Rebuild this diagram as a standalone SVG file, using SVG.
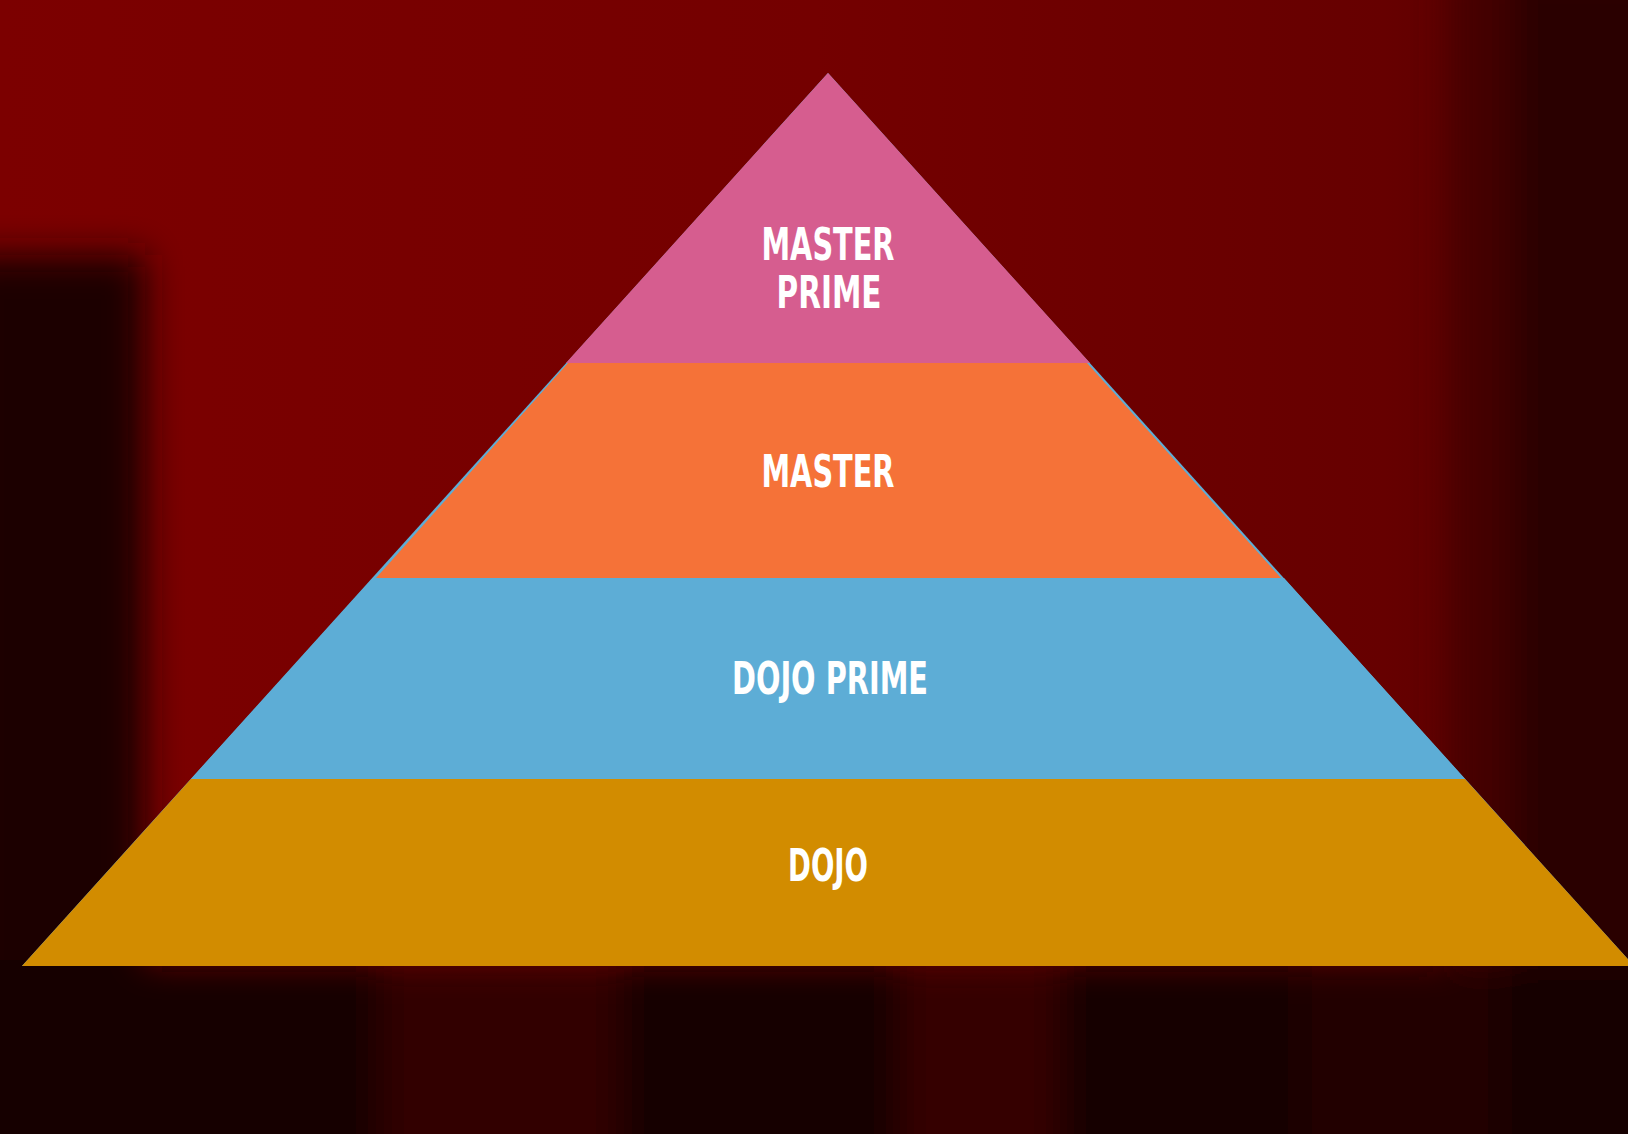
<svg xmlns="http://www.w3.org/2000/svg" width="1628" height="1134" viewBox="0 0 1628 1134">
<defs>
<filter id="blur" x="-20%" y="-20%" width="140%" height="140%"><feGaussianBlur stdDeviation="18"/></filter>
<linearGradient id="bg" x1="0" y1="0" x2="1" y2="0">
<stop offset="0" stop-color="#7c0000"/>
<stop offset="0.5" stop-color="#740000"/>
<stop offset="0.85" stop-color="#660000"/>
<stop offset="1" stop-color="#500000"/>
</linearGradient>
<style>
.lbl{font-family:"DejaVu Sans Condensed","DejaVu Sans",sans-serif;font-weight:bold;font-size:44px;fill:#ffffff;text-anchor:middle}
</style>
</defs>
<g id="background">
<rect x="0" y="0" width="1628" height="1134" fill="url(#bg)"/>
<g filter="url(#blur)">
<rect x="-40" y="255" width="185" height="950" fill="#1c0000"/>
<rect x="1490" y="-40" width="180" height="1250" fill="#2a0000"/>
<rect x="1450" y="-40" width="60" height="1250" fill="#440000"/>
<rect x="-40" y="960" width="1720" height="220" fill="#160000"/>
<rect x="380" y="960" width="240" height="220" fill="#300000"/>
<rect x="900" y="960" width="160" height="220" fill="#360000"/>
<rect x="1300" y="960" width="200" height="220" fill="#200000"/>
</g>
</g>
<g id="pyramid">
<polygon points="828,73 1634,966 22,966" fill="#5dadd6"/>
<g id="dojo"><polygon points="191,779 1465,779 1634,966 22,966" fill="#d28c00"/><text class="lbl" x="828" y="881" textLength="80" lengthAdjust="spacingAndGlyphs">DOJO</text></g>
<g id="dojo-prime"><polygon points="373,578 1284,578 1465,779 191,779" fill="#5dadd6"/><text class="lbl" x="830" y="694" textLength="196" lengthAdjust="spacingAndGlyphs">DOJO PRIME</text></g>
<g id="master"><polygon points="568,363 1087,363 1281,578 376,578" fill="#f57238"/><text class="lbl" x="828" y="487" textLength="133" lengthAdjust="spacingAndGlyphs">MASTER</text></g>
<g id="master-prime"><polygon points="828,73 1090,363 566,363" fill="#d65d8f"/><text class="lbl" x="828" y="260" textLength="133" lengthAdjust="spacingAndGlyphs">MASTER</text><text class="lbl" x="829" y="308" textLength="105" lengthAdjust="spacingAndGlyphs">PRIME</text></g>
</g>
<g id="connectors"/>
</svg>
